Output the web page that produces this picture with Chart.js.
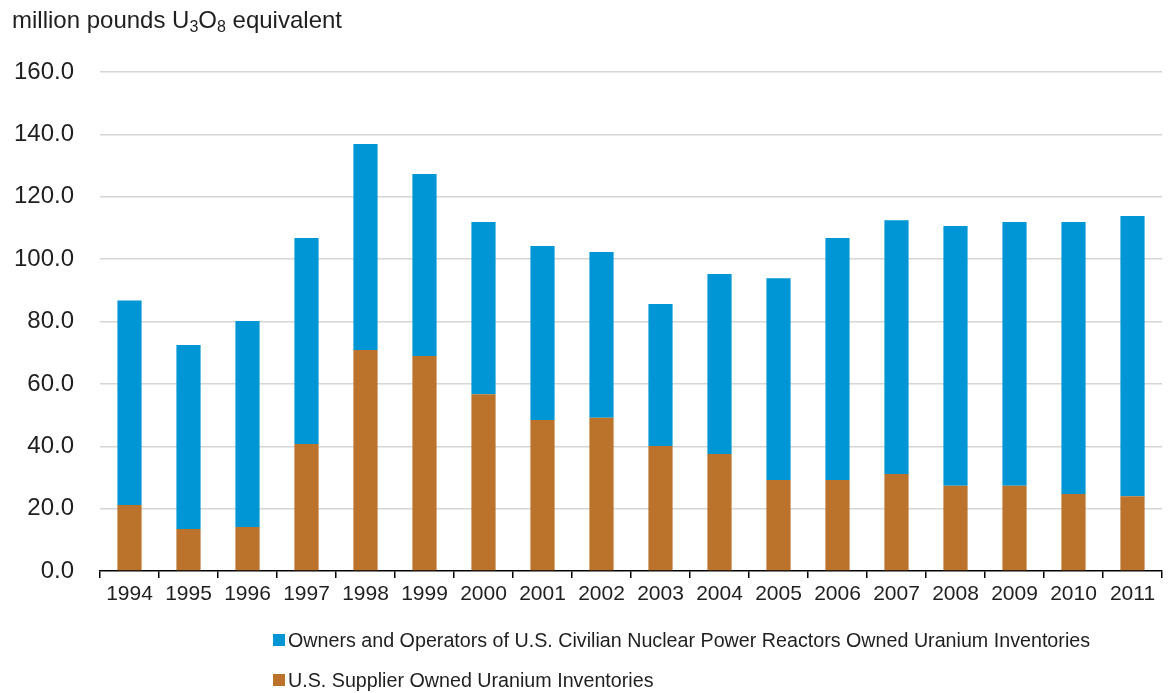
<!DOCTYPE html>
<html>
<head>
<meta charset="utf-8">
<script src="https://cdn.jsdelivr.net/npm/chart.js@4/dist/chart.umd.min.js"></script>
<style>
  html, body { margin: 0; padding: 0; background: #fff; }
  #wrap { position: relative; width: 1169px; height: 693px; font-family: "Liberation Sans", Arial, sans-serif; color: #1f1f1f; }
  #c { position: absolute; left: 0; top: 0; }
  #title { position: absolute; left: 12px; top: 6px; font-size: 24px; line-height: 28px; white-space: nowrap; }
  #title sub { font-size: 16px; vertical-align: -4px; line-height: 0; }
  .leg { position: absolute; left: 273px; font-size: 19.7px; line-height: 22px; white-space: nowrap; display: flex; align-items: center; }
  .leg i { display: inline-block; width: 12px; height: 12px; margin-right: 3px; }
</style>
</head>
<body>
<div id="wrap">
  <canvas id="c" width="1169" height="693"></canvas>
  <div id="title">million pounds U<sub>3</sub>O<sub>8</sub> equivalent</div>
  <div class="leg" id="leg1" style="top:629px"><i style="background:#0096d6"></i><span>Owners and Operators of U.S. Civilian Nuclear Power Reactors Owned Uranium Inventories</span></div>
  <div class="leg" id="leg2" style="top:669px"><i style="background:#bb732c"></i><span>U.S. Supplier Owned Uranium Inventories</span></div>
</div>
<script>
const years = ["1994","1995","1996","1997","1998","1999","2000","2001","2002","2003","2004","2005","2006","2007","2008","2009","2010","2011"];
// U.S. supplier owned inventories (bottom segment)
const supplier = [21.2, 13.5, 14.1, 40.7, 70.9, 68.9, 56.7, 48.4, 49.1, 40.1, 37.5, 29.2, 29.2, 31.1, 27.3, 27.3, 24.7, 24.0];
// Owners and operators of U.S. civilian nuclear power reactors (top segment)
const owners = [65.5, 59.0, 66.1, 66.1, 66.0, 58.4, 55.2, 55.8, 53.2, 45.5, 57.7, 64.7, 77.6, 81.4, 83.3, 84.6, 87.2, 89.8];
const yTicks = [0, 20, 40, 60, 80, 100, 120, 140, 160];

const ctx = document.getElementById('c').getContext('2d');
new Chart(ctx, {
  type: 'bar',
  data: {
    labels: years,
    datasets: [
      { label: 'U.S. Supplier Owned Uranium Inventories', data: supplier, backgroundColor: '#bb732c', borderWidth: 0 },
      { label: 'Owners and Operators of U.S. Civilian Nuclear Power Reactors Owned Uranium Inventories', data: owners, backgroundColor: '#0096d6', borderWidth: 0 }
    ]
  },
  options: {
    responsive: false,
    animation: false,
    devicePixelRatio: 1,
    layout: { padding: { top: 72, right: 7, bottom: 72, left: 0 } },
    plugins: { legend: { display: false }, tooltip: { enabled: false }, title: { display: false } },
    datasets: { bar: { categoryPercentage: 1.0, barPercentage: 0.41 } },
    scales: {
      x: {
        stacked: true,
        afterFit: s => { s.height = 50; },
        grid: { drawOnChartArea: false, drawTicks: true, tickLength: 7, color: '#000', lineWidth: 1.5, offset: true },
        border: { display: true, color: '#000', width: 1.5 },
        ticks: { color: '#1f1f1f', font: { family: '"Liberation Sans", Arial, sans-serif', size: 21 }, padding: 4, maxRotation: 0, autoSkip: false }
      },
      y: {
        stacked: true,
        min: 0, max: 160,
        afterFit: s => { s.width = 100; },
        afterBuildTicks: s => { s.ticks = yTicks.map(v => ({ value: v })); },
        grid: { drawTicks: false, color: c => (c.tick && c.tick.value === 0) ? 'rgba(0,0,0,0)' : '#d6d6d6', lineWidth: 1.5 },
        border: { display: false },
        ticks: { color: '#1f1f1f', font: { family: '"Liberation Sans", Arial, sans-serif', size: 24 }, padding: 26, callback: v => Number(v).toFixed(1) }
      }
    }
  }
});
</script>
</body>
</html>
